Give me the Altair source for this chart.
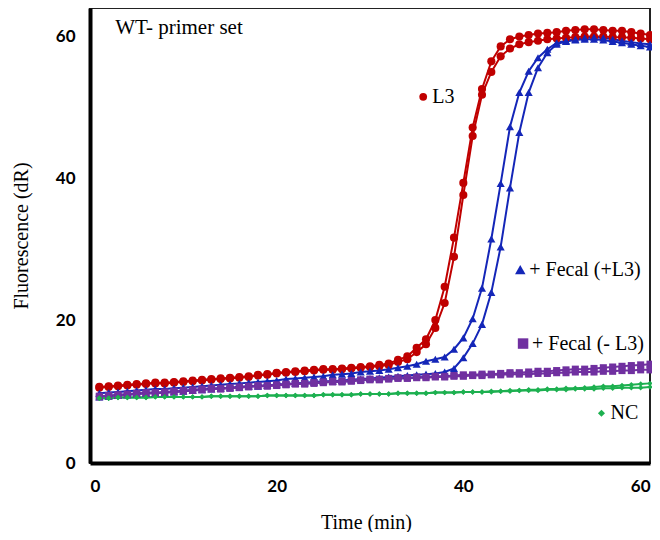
import altair as alt
import pandas as pd

times = list(range(1, 61))

red_a = [10.7, 10.8, 10.9, 11.0, 11.1, 11.2, 11.3, 11.3, 11.4, 11.5,
         11.6, 11.7, 11.8, 11.9, 12.0, 12.1, 12.2, 12.4, 12.5, 12.7,
         12.8, 12.9, 13.0, 13.1, 13.2, 13.2, 13.3, 13.4, 13.5, 13.6,
         13.8, 14.0, 14.5, 15.0, 16.2, 17.4, 20.1, 24.8, 31.7, 39.4,
         47.2, 52.6, 56.5, 58.6, 59.6, 60.0, 60.2, 60.4, 60.5, 60.6,
         60.8, 60.9, 61.0, 61.0, 60.9, 60.8, 60.8, 60.6, 60.4, 60.2]
red_b = [10.6, 10.7, 10.8, 10.9, 11.0, 11.1, 11.2, 11.2, 11.3, 11.4,
         11.5, 11.6, 11.7, 11.8, 11.9, 12.0, 12.1, 12.3, 12.4, 12.6,
         12.7, 12.8, 12.9, 13.0, 13.1, 13.1, 13.2, 13.3, 13.4, 13.5,
         13.6, 13.8, 14.2, 14.6, 15.6, 16.7, 19.0, 22.5, 29.0, 37.7,
         46.0, 51.8, 55.0, 57.2, 58.3, 58.9, 59.2, 59.4, 59.6, 59.7,
         59.8, 59.9, 60.0, 60.0, 60.0, 59.9, 59.9, 59.8, 59.7, 59.6]
blue_a = [9.8, 9.9, 10.0, 10.1, 10.2, 10.3, 10.4, 10.4, 10.5, 10.6,
          10.7, 10.8, 10.9, 11.0, 11.1, 11.2, 11.3, 11.4, 11.5, 11.6,
          11.8, 11.9, 12.0, 12.1, 12.2, 12.4, 12.5, 12.6, 12.8, 12.9,
          13.0, 13.2, 13.4, 13.6, 13.9, 14.3, 14.6, 14.9, 16.0, 17.6,
          20.3, 24.6, 31.5, 39.3, 47.3, 52.1, 55.1, 57.0, 58.2, 59.1,
          59.4, 59.6, 59.8, 59.9, 59.8, 59.6, 59.4, 59.2, 59.0, 58.9]
blue_b = [9.3, 9.4, 9.5, 9.6, 9.7, 9.8, 9.8, 9.9, 10.0, 10.1,
          10.2, 10.3, 10.4, 10.5, 10.6, 10.7, 10.8, 10.8, 10.9, 11.0,
          11.1, 11.2, 11.3, 11.4, 11.5, 11.5, 11.6, 11.7, 11.8, 11.9,
          12.0, 12.1, 12.2, 12.3, 12.4, 12.5, 12.6, 12.8, 13.3, 14.8,
          16.8, 19.5, 24.0, 30.4, 38.7, 46.5, 52.1, 55.6, 57.7, 58.9,
          59.3, 59.5, 59.6, 59.6, 59.5, 59.3, 59.1, 58.9, 58.7, 58.5]
purple_a = [9.4, 9.5, 9.6, 9.7, 9.8, 9.9, 9.9, 10.0, 10.1, 10.2,
            10.3, 10.4, 10.5, 10.5, 10.6, 10.7, 10.8, 10.9, 10.9, 11.0,
            11.1, 11.2, 11.2, 11.3, 11.4, 11.5, 11.5, 11.6, 11.7, 11.8,
            11.8, 11.9, 12.0, 12.0, 12.1, 12.1, 12.2, 12.2, 12.3, 12.4,
            12.4, 12.5, 12.5, 12.6, 12.7, 12.7, 12.8, 12.9, 12.9, 13.0,
            13.1, 13.2, 13.2, 13.3, 13.4, 13.5, 13.6, 13.7, 13.8, 13.9]
purple_b = [9.3, 9.4, 9.5, 9.6, 9.7, 9.8, 9.8, 9.9, 10.0, 10.1,
            10.2, 10.3, 10.4, 10.4, 10.5, 10.6, 10.7, 10.8, 10.8, 10.9,
            11.0, 11.1, 11.1, 11.2, 11.3, 11.4, 11.4, 11.5, 11.6, 11.7,
            11.7, 11.8, 11.9, 11.9, 12.0, 12.0, 12.1, 12.1, 12.2, 12.2,
            12.3, 12.3, 12.4, 12.4, 12.5, 12.5, 12.5, 12.6, 12.6, 12.7,
            12.7, 12.8, 12.8, 12.8, 12.9, 12.9, 13.0, 13.0, 13.1, 13.1]
green_a = [9.1, 9.1, 9.2, 9.2, 9.2, 9.2, 9.3, 9.3, 9.3, 9.3,
           9.3, 9.3, 9.4, 9.4, 9.4, 9.4, 9.4, 9.4, 9.5, 9.5,
           9.5, 9.5, 9.5, 9.5, 9.6, 9.6, 9.6, 9.6, 9.7, 9.7,
           9.7, 9.7, 9.8, 9.8, 9.8, 9.8, 9.9, 9.9, 9.9, 10.0,
           10.0, 10.0, 10.1, 10.1, 10.2, 10.2, 10.3, 10.3, 10.4, 10.4,
           10.5, 10.5, 10.6, 10.7, 10.8, 10.8, 10.9, 11.0, 11.1, 11.2]
green_b = [9.1, 9.1, 9.2, 9.2, 9.2, 9.2, 9.3, 9.3, 9.3, 9.3,
           9.3, 9.3, 9.4, 9.4, 9.4, 9.4, 9.4, 9.4, 9.5, 9.5,
           9.5, 9.5, 9.5, 9.5, 9.6, 9.6, 9.6, 9.6, 9.7, 9.7,
           9.7, 9.7, 9.8, 9.8, 9.8, 9.8, 9.9, 9.9, 9.9, 10.0,
           10.0, 10.0, 10.0, 10.1, 10.1, 10.2, 10.2, 10.2, 10.3, 10.3,
           10.3, 10.4, 10.4, 10.4, 10.5, 10.5, 10.6, 10.6, 10.6, 10.7]

groups = ["L3", "+ Fecal (+L3)", "+ Fecal (- L3)", "NC"]
colors = ["#C00000", "#1426B8", "#7030A0", "#1DB050"]
shapes = ["circle", "triangle-up", "square", "diamond"]
point_sizes = [66, 66, 50, 30]

label_t = [35.7, 46.1, 46.4, 54.8]
label_v = [51.5, 27.2, 16.8, 7.0]
label_sizes = [60, 110, 110, 50]

title_text = ["WT- primer set"]
title_t = [2.7]
title_v = [61.2]

series = [
    ("L3", "L3a", red_a), ("L3", "L3b", red_b),
    ("+ Fecal (+L3)", "FPa", blue_a), ("+ Fecal (+L3)", "FPb", blue_b),
    ("+ Fecal (- L3)", "FNa", purple_a), ("+ Fecal (- L3)", "FNb", purple_b),
    ("NC", "NCa", green_a), ("NC", "NCb", green_b),
]
rows = []
for g, rep, vals in series:
    for t, v in zip(times, vals):
        rows.append({"group": g, "rep": rep, "t": t, "v": v, "s": point_sizes[groups.index(g)]})
df = pd.DataFrame(rows)

lab = pd.DataFrame({"group": groups, "t": label_t, "v": label_v, "s": label_sizes})
ttl = pd.DataFrame({"text": title_text, "t": title_t, "v": title_v})

xs = alt.Scale(domain=[0, 60], nice=False, zero=False)
ys = alt.Scale(domain=[0, 64], nice=False)
cs = alt.Scale(domain=groups, range=colors)
ss = alt.Scale(domain=groups, range=shapes)

x_axis = alt.Axis(values=[0, 20, 40, 60], title="Time (min)", titleX=276, titleY=59,
                  titleBaseline="middle", labelPadding=15)
y_axis = alt.Axis(values=[0, 20, 40, 60], title="Fluorescence (dR)", titleX=-69,
                  titleY=227.5, titleAngle=270, titleBaseline="middle", titleAlign="center",
                  labelPadding=15)

X = alt.X("t:Q", scale=xs, axis=x_axis)
Y = alt.Y("v:Q", scale=ys, axis=y_axis)

lines = alt.Chart(df).mark_line(strokeWidth=2).encode(
    x=X, y=Y,
    color=alt.Color("group:N", scale=cs, legend=None),
    detail="rep:N", order="t:Q")

points = alt.Chart(df).mark_point(filled=True, opacity=1).encode(
    x="t:Q", y="v:Q",
    color=alt.Color("group:N", scale=cs, legend=None),
    shape=alt.Shape("group:N", scale=ss, legend=None),
    size=alt.Size("s:Q", scale=None, legend=None))

lab_pts = alt.Chart(lab).mark_point(filled=True, opacity=1).encode(
    x="t:Q", y="v:Q",
    color=alt.Color("group:N", scale=cs, legend=None),
    shape=alt.Shape("group:N", scale=ss, legend=None),
    size=alt.Size("s:Q", scale=None, legend=None))

lab_txt = alt.Chart(lab).mark_text(align="left", baseline="middle", dx=9,
                                   font="Liberation Serif", fontSize=20, color="black").encode(
    x="t:Q", y="v:Q", text="group:N")

title_mark = alt.Chart(ttl).mark_text(align="left", baseline="middle",
                                      font="Liberation Serif", fontSize=21, color="black").encode(
    x="t:Q", y="v:Q", text="text:N")

chart = alt.layer(lines, points, lab_pts, lab_txt, title_mark).properties(
    width=560, height=455,
    autosize=alt.AutoSizeParams(type="none"),
    padding={"left": 82, "top": 0, "right": 2, "bottom": 69},
).configure_view(stroke="#222222", strokeWidth=2).configure_axis(
    domainWidth=4, domainColor="black", ticks=False, grid=False,
    labelFont="Lato", labelFontWeight="bold", labelFontSize=17, labelColor="black",
    titleFont="Liberation Serif", titleFontWeight="normal", titleFontSize=20, titleColor="black",
)

chart.save("out.html", embed_options={"renderer": "svg", "actions": False})
